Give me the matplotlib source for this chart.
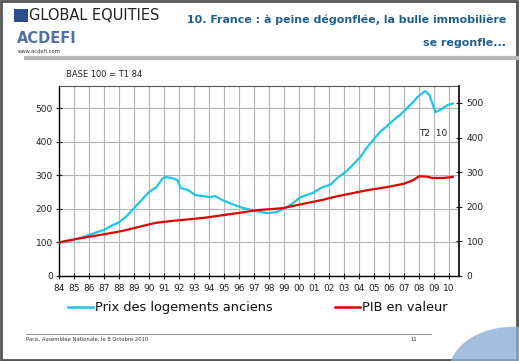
import matplotlib
matplotlib.use("Agg")
import matplotlib.pyplot as plt
from matplotlib.lines import Line2D
from matplotlib.patches import Rectangle, Circle

# ── data (base 100 = T1 84) ─────────────────────────────────────────────────
prix_years = [1984.0, 1984.5, 1985.0, 1985.5, 1986.0, 1986.5, 1987.0, 1987.5,
              1988.0, 1988.5, 1989.0, 1989.5, 1990.0, 1990.5, 1990.9, 1991.1,
              1991.5, 1991.9, 1992.1, 1992.6, 1993.1, 1993.6, 1994.1, 1994.4,
              1994.9, 1995.5, 1996.1, 1996.7, 1997.3, 1997.9, 1998.5, 1999.2,
              1999.6, 2000.1, 2000.9, 2001.6, 2002.1, 2002.5, 2002.9, 2003.3,
              2003.7, 2004.1, 2004.5, 2005.0, 2005.4, 2005.9, 2006.3, 2006.8,
              2007.2, 2007.6, 2007.9, 2008.4, 2008.7, 2009.1, 2009.4, 2009.9,
              2010.25]
prix_values = [100, 103, 108, 114, 122, 130, 137, 150,
               160, 178, 202, 226, 250, 265, 290, 295,
               292, 286, 262, 256, 241, 238, 235, 238,
               226, 215, 205, 198, 192, 187, 190, 205,
               217, 235, 247, 265, 272, 290, 303, 318,
               336, 355, 381, 408, 429, 448, 464, 482,
               500, 518, 533, 551, 539, 488, 494, 509,
               514]

pib_years = [1984.0, 1985.1, 1985.9, 1987.1, 1988.2, 1989.3, 1990.4, 1991.5,
             1992.7, 1993.8, 1994.9, 1996.0, 1997.2, 1998.9, 2000.5, 2001.5,
             2002.5, 2003.6, 2004.6, 2005.9, 2007.0, 2007.6, 2008.0, 2008.5,
             2008.9, 2009.6, 2010.25]
pib_values = [100, 110, 116, 125, 134, 146, 158, 164,
              169, 174, 181, 188, 196, 202, 217, 226,
              237, 247, 256, 265, 275, 285, 297, 296,
              292, 292, 295]

year_ticks = list(range(1984, 2011))
year_labels = ["84", "85", "86", "87", "88", "89", "90", "91", "92", "93", "94",
               "95", "96", "97", "98", "99", "00", "01", "02", "03", "04", "05",
               "06", "07", "08", "09", "10"]
y_ticks = [0, 100, 200, 300, 400, 500]

CYAN = "#1ec6e6"
RED = "#e00000"
TITLE_BLUE = "#1f5f8f"

fig = plt.figure(figsize=(5.19, 3.61), dpi=100)
fig.patch.set_facecolor("white")

# ── page decorations ────────────────────────────────────────────────────────
fig.add_artist(Rectangle((0.002, 0.004), 0.994, 0.993, transform=fig.transFigure,
                         fill=False, ec="#555555", lw=2.0))
fig.add_artist(Line2D([0.05, 1.0], [0.838, 0.838], transform=fig.transFigure,
                      color="#b8b8b8", lw=3))
fig.add_artist(Line2D([0.05, 0.83], [0.075, 0.075], transform=fig.transFigure,
                      color="#999999", lw=0.8))
globe = Circle((0.99, -0.03), 0.125, transform=fig.transFigure,
               fc="#8fb0d8", ec="none", alpha=0.8)
fig.add_artist(globe)

# logo square + header texts
fig.add_artist(Rectangle((0.027, 0.94), 0.027, 0.035, transform=fig.transFigure,
                         fc="#2a4f8a", ec="none"))
fig.text(0.056, 0.957, "GLOBAL EQUITIES", fontsize=10.5, color="#222222",
         va="center", ha="left")
fig.text(0.033, 0.893, "ACDEFI", fontsize=10.5, fontweight="bold",
         color="#5070a8", va="center", ha="left")
fig.text(0.035, 0.857, "www.acdefi.com", fontsize=3.8, color="#333333",
         va="center", ha="left")
fig.text(0.975, 0.945, "10. France : à peine dégonflée, la bulle immobilière",
         fontsize=7.9, fontweight="bold", color=TITLE_BLUE, ha="right", va="center")
fig.text(0.975, 0.882, "se regonfle...", fontsize=7.9, fontweight="bold",
         color=TITLE_BLUE, ha="right", va="center")

# footer
fig.text(0.05, 0.06, "Paris, Assemblée Nationale, le 8 Octobre 2010", fontsize=3.8,
         color="#333333", va="center", ha="left")
fig.text(0.79, 0.06, "11", fontsize=3.8, color="#333333", va="center", ha="left")

# ── chart ───────────────────────────────────────────────────────────────────
ax = fig.add_axes([0.1137, 0.2355, 0.7707, 0.5263])
ax.plot(prix_years, prix_values, color=CYAN, lw=1.6, zorder=3)
ax.plot(pib_years, pib_values, color=RED, lw=1.6, zorder=4)

ax.set_xlim(1984, 2010.67)
ax.set_ylim(0, 566)
ax.set_xticks(year_ticks)
ax.set_xticklabels(year_labels)
ax.set_yticks(y_ticks)
ax.grid(True, color="#b4b4bc", lw=0.8)
ax.set_axisbelow(True)
ax.tick_params(axis="both", labelsize=6.5, direction="inout", length=5,
               width=0.8, colors="#222222", pad=2)
ax.tick_params(axis="x", pad=3)
for side in ["left", "bottom"]:
    ax.spines[side].set_color("black")
    ax.spines[side].set_linewidth(1.0)
ax.spines["top"].set_color("#555555")
ax.spines["top"].set_linewidth(0.8)
ax.spines["right"].set_visible(False)

ax2 = ax.twinx()
ax2.set_ylim(0, 549)
ax2.set_yticks(y_ticks)
ax2.tick_params(axis="y", labelsize=6.5, direction="inout", length=5,
                width=0.8, colors="#222222", pad=3)
ax2.spines["right"].set_color("black")
ax2.spines["right"].set_linewidth(1.2)
for side in ["left", "top", "bottom"]:
    ax2.spines[side].set_visible(False)

ax.text(0.018, 1.035, "BASE 100 = T1 84", transform=ax.transAxes, fontsize=6,
        color="#222222", va="bottom", ha="left")
ax.text(0.935, 0.75, "T2  10", transform=ax.transAxes, fontsize=6.5,
        color="#222222", va="center", ha="center")

# legend row (drawn manually to match the spaced-out layout)
fig.add_artist(Line2D([0.131, 0.179], [0.149, 0.149], transform=fig.transFigure,
                      color=CYAN, lw=1.8))
fig.text(0.184, 0.149, "Prix des logements anciens", fontsize=9.3, color="#111111",
         va="center", ha="left")
fig.add_artist(Line2D([0.645, 0.693], [0.149, 0.149], transform=fig.transFigure,
                      color=RED, lw=1.8))
fig.text(0.698, 0.149, "PIB en valeur", fontsize=9.3, color="#111111",
         va="center", ha="left")

fig.savefig("out.png", dpi=100)
